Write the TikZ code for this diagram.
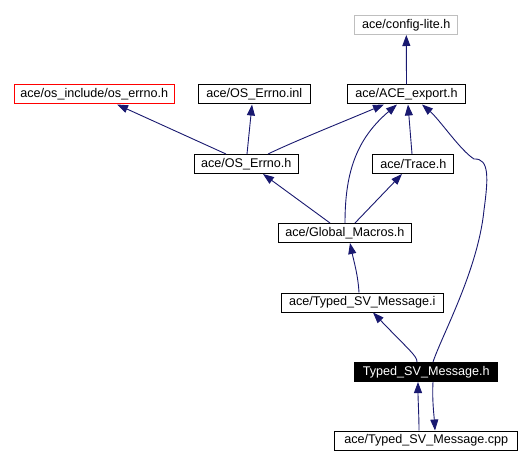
\documentclass[tikz,border=0pt]{standalone}
\usepackage{fontspec}
\setmainfont{Liberation Sans}
\usetikzlibrary{arrows.meta}
\definecolor{edgeblue}{HTML}{191970}
\definecolor{lightgrayborder}{HTML}{BFBFBF}
\begin{document}
\begin{tikzpicture}[x=1pt,y=-1pt,
  box/.style={draw=black,line width=1pt,fill=white,inner sep=0pt,minimum height=19pt,
    font=\fontsize{12.6}{15}\selectfont,anchor=center},
  dep/.style={draw=edgeblue,line width=0.9pt,-{Triangle[length=11pt,width=8pt]}}]
\useasboundingbox (0,0) rectangle (530,465);
\fill[white] (0,0) rectangle (530,465);
% nodes
\node[box,draw=lightgrayborder,minimum width=102.7pt] (cfg) at (406.3,25) {ace/config-lite.h};
\node[box,minimum width=118.4pt] (exp) at (406.5,94.5) {ace/ACE\_export.h};
\node[box,draw=red,minimum width=160pt] (oerr) at (94.3,94.5) {ace/os\_include/os\_errno.h};
\node[box,minimum width=112pt] (inl) at (254.3,94.5) {ace/OS\_Errno.inl};
\node[box,minimum width=104pt] (oeh) at (246.3,164) {ace/OS\_Errno.h};
\node[box,minimum width=80.7pt] (trc) at (413.3,164) {ace/Trace.h};
\node[box,minimum width=133pt] (glb) at (344.8,233) {ace/Global\_Macros.h};
\node[box,minimum width=162.3pt] (tsvi) at (362.2,302.5) {ace/Typed\_SV\_Message.i};
\node[box,fill=black,text=white,minimum width=142.7pt] (tsvh) at (426.3,372) {Typed\_SV\_Message.h};
\node[box,minimum width=182.7pt] (cpp) at (426.3,440.5) {ace/Typed\_SV\_Message.cpp};
% edges
\draw[dep] (exp.north) -- (cfg.south);
\draw[dep] ([xshift=-20.3pt]oeh.north) -- ([xshift=22.7pt]oerr.south);
\draw[dep] ([xshift=0.7pt]oeh.north) -- ([xshift=-2.3pt]inl.south);
\draw[dep] ([xshift=21.7pt]oeh.north) .. controls (295,141) and (345,121) .. ([xshift=-22.5pt]exp.south);
\draw[dep] ([xshift=0.2pt]glb.north) .. controls (345,175) and (355,140) .. ([xshift=-9.5pt]exp.south);
\draw[dep] ([xshift=-1.3pt]trc.north) -- ([xshift=1.5pt]exp.south);
\draw[dep] ([xshift=6.7pt]tsvh.north) .. controls (442,335) and (478,270) .. (484,210)
  .. controls (488,180) and (490,158) .. (474,159)
  .. controls (460,150) and (440,120) .. ([xshift=15.5pt]exp.south);
\draw[dep] ([xshift=-14.8pt]glb.north) -- ([xshift=16.7pt]oeh.south);
\draw[dep] ([xshift=10.2pt]glb.north) -- ([xshift=-11.3pt]trc.south);
\draw[dep] ([xshift=-3.2pt]tsvi.north) .. controls (358,275) and (354,262) .. ([xshift=5.2pt]glb.south);
\draw[dep] ([xshift=-9.3pt]tsvh.north) .. controls (417,356) and (410,351) .. ([xshift=10.8pt]tsvi.south);
\draw[dep] ([xshift=-7.3pt]cpp.north) .. controls (419,415) and (418,400) .. ([xshift=-8.3pt]tsvh.south);
\draw[dep] ([xshift=6.7pt]tsvh.south) .. controls (432,400) and (434,415) .. ([xshift=8.7pt]cpp.north);
\end{tikzpicture}
\end{document}
